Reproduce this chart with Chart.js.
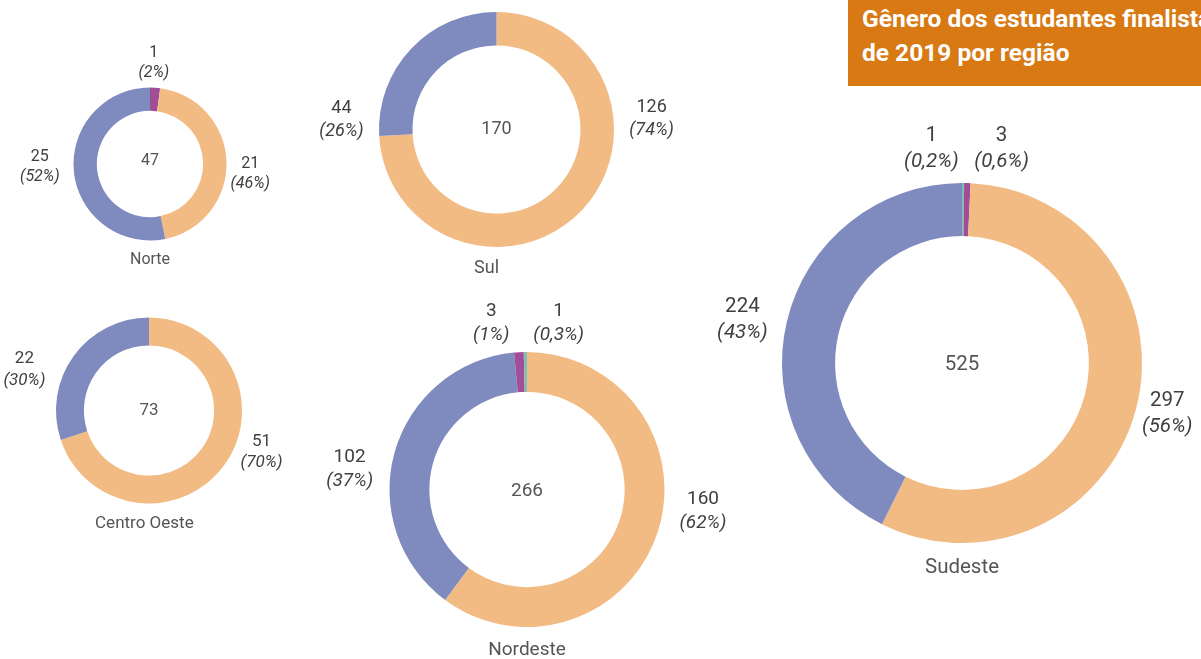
<!DOCTYPE html>
<html lang="pt-BR">
<head>
<meta charset="utf-8">
<title>Gênero dos estudantes finalistas de 2019 por região</title>
<script src="https://cdn.jsdelivr.net/npm/chart.js@4.4.1/dist/chart.umd.min.js"></script>
<style>
    html, body { margin: 0; padding: 0; background: #fff; }
    #stage { position: relative; width: 1201px; height: 659px; overflow: hidden; }
    #stage canvas { position: absolute; left: 0; top: 0; }
    #title {
        position: absolute; left: 848px; top: 0; width: 353px; height: 86px;
        box-sizing: border-box; padding: 2px 0 0 14px;
        background: #d87914; color: #fff;
        font: 700 24.5px Roboto, sans-serif; line-height: 34px;
        white-space: nowrap; overflow: hidden;
    }
</style>
</head>
<body>
<div id="stage">
    <div id="title">Gênero dos estudantes finalistas<br>de 2019 por região</div>
</div>
<script>
// Values. Each region lists its slices in drawing order
// (clockwise from 12 o'clock); *Cats maps each slice to a category index.
const categories = ["Feminino", "Masculino", "Outro", "Não informado"];
const categoryColors = ["#f2bb84", "#7f8abe", "#a24d98", "#7fbfb6"];

const regions = ["Norte", "Sul", "Centro Oeste", "Nordeste", "Sudeste"];

const norteCats = [2, 0, 1];
const norteValues = [1, 21, 25];
const nortePct = [2, 46, 52];

const sulCats = [0, 1];
const sulValues = [126, 44];
const sulPct = [74, 26];

const centroOesteCats = [0, 1];
const centroOesteValues = [51, 22];
const centroOestePct = [70, 30];

const nordesteCats = [0, 1, 2, 3];
const nordesteValues = [160, 102, 3, 1];
const nordestePct = [62, 37, 1, 0.3];

const sudesteCats = [3, 2, 0, 1];
const sudesteValues = [1, 3, 297, 224];
const sudestePct = [0.2, 0.6, 56, 43];

// Layout: ring centre / radius on the page, font size, and where each
// value label sits relative to the ring (multiples of the outer radius).
const layout = [
    { cx: 150, cy: 164, r: 76.5, cutout: "69.5%", fs: 16, centerDy: -3,
      spots: [[0.05, -1.32], [1.31, 0.13], [-1.44, 0.04]], nameDx: 0 },
    { cx: 496.5, cy: 129.5, r: 117.5, cutout: "71.5%", fs: 18, centerDy: 0,
      spots: [[1.32, -0.09], [-1.32, -0.08]], nameDx: -0.085 },
    { cx: 149, cy: 410.5, r: 93, cutout: "70%", fs: 17, centerDy: 0,
      spots: [[1.21, 0.45], [-1.34, -0.44]], nameDx: -0.05 },
    { cx: 527, cy: 489.5, r: 137.5, cutout: "71%", fs: 19, centerDy: 2,
      spots: [[1.28, 0.16], [-1.29, -0.15], [-0.26, -1.21], [0.23, -1.21]], nameDx: 0 },
    { cx: 962, cy: 363, r: 180, cutout: "70.5%", fs: 20.5, centerDy: 2,
      spots: [[-0.17, -1.19], [0.22, -1.19], [1.14, 0.28], [-1.22, -0.24]], nameDx: 0 },
];

const W = 1201, H = 659;

function fmtPct(p) {
    return String(p).replace(".", ",") + "%";
}

// draws the two-line value labels, the total in the hole and the region name
function ringLabels(name, pct, look) {
    return {
        id: "ringLabels",
        afterDatasetsDraw(chart) {
            const ctx = chart.ctx;
            const arcs = chart.getDatasetMeta(0).data;
            const values = chart.data.datasets[0].data;
            const { x, y, outerRadius: r } = arcs[0].getProps(["x", "y", "outerRadius"], true);
            const fs = look.fs, lh = fs * 1.27;
            const total = values.reduce((a, b) => a + b, 0);

            ctx.save();
            ctx.textAlign = "center";
            ctx.textBaseline = "middle";
            ctx.fillStyle = "#404040";
            arcs.forEach((arc, i) => {
                const [dx, dy] = look.spots[i];
                const lx = x + dx * r, ly = y + dy * r;
                ctx.font = `${fs}px Roboto`;
                ctx.fillText(String(values[i]), lx, ly - lh / 2);
                ctx.font = `italic ${fs}px Roboto`;
                ctx.fillText(`(${fmtPct(pct[i])})`, lx, ly + lh / 2);
            });
            ctx.fillStyle = "#555";
            ctx.font = `${fs}px Roboto`;
            ctx.fillText(String(total), x, y + look.centerDy);
            ctx.fillText(name, x + look.nameDx * r, y + r + fs * 1.2);
            ctx.restore();
        },
    };
}

function renderRing(idx, cats, values, pct) {
    const look = layout[idx];
    const canvas = document.createElement("canvas");
    canvas.width = W;
    canvas.height = H;
    document.getElementById("stage").appendChild(canvas);
    new Chart(canvas.getContext("2d"), {
        type: "doughnut",
        data: {
            labels: cats.map((c) => categories[c]),
            datasets: [{
                data: values,
                backgroundColor: cats.map((c) => categoryColors[c]),
                borderWidth: 0,
            }],
        },
        options: {
            responsive: false,
            animation: false,
            cutout: look.cutout,
            layout: {
                padding: {
                    left: look.cx - look.r,
                    right: W - look.cx - look.r,
                    top: look.cy - look.r,
                    bottom: H - look.cy - look.r,
                },
            },
            plugins: { legend: { display: false }, tooltip: { enabled: false } },
        },
        plugins: [ringLabels(regions[idx], pct, look)],
    });
}

renderRing(0, norteCats, norteValues, nortePct);
renderRing(1, sulCats, sulValues, sulPct);
renderRing(2, centroOesteCats, centroOesteValues, centroOestePct);
renderRing(3, nordesteCats, nordesteValues, nordestePct);
renderRing(4, sudesteCats, sudesteValues, sudestePct);
</script>
</body>
</html>
